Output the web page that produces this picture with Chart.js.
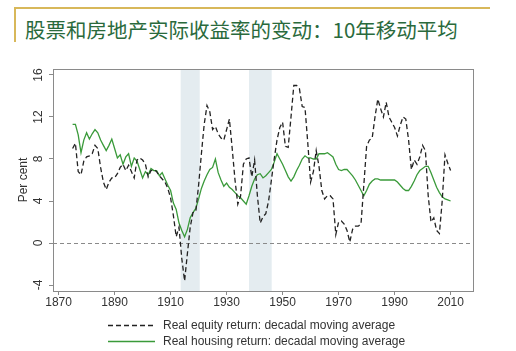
<!DOCTYPE html>
<html>
<head>
<meta charset="utf-8">
<script src="https://cdn.jsdelivr.net/npm/chart.js@4.4.1/dist/chart.umd.min.js"></script>
<style>
    html, body { margin: 0; padding: 0; background: #fff; }
    #wrap { position: relative; width: 516px; height: 351px; overflow: hidden; }
    #title {
        position: absolute; left: 14px; top: 7px; width: 476px; height: 35px;
        border-top: 2px solid #d8b85a; border-left: 2px solid #d8b85a;
        font-family: "Noto Sans CJK SC", sans-serif; font-size: 20.5px;
        color: #2a6a3c; line-height: 40px; padding-left: 9px; box-sizing: border-box;
        white-space: nowrap;
    }
    #chart { position: absolute; left: 0; top: 0; }
</style>
</head>
<body>
<div id="wrap">
    <div id="title">股票和房地产实际收益率的变动：10年移动平均</div>
    <canvas id="chart" width="516" height="351"></canvas>
</div>
<script>
// yearly values, 1875 - 2010
const startYear = 1875;

const equityReturn = [
    9.0, 9.5, 6.8, 6.5, 7.8, 8.2, 8.3, 8.5, 9.3, 9.0,
    7.2, 5.8, 5.1, 5.8, 6.2, 6.2, 6.6, 7.2, 7.5, 6.9,
    7.4, 6.8, 6.2, 7.9, 8.1, 7.9, 7.5, 6.3, 6.9, 7.0,
    6.8, 6.4, 6.1, 5.8, 5.2, 4.3, 2.6, 0.6, 1.5, -1.5,
    -3.6, -1.0, 1.5, 2.9, 3.0, 5.5, 8.5, 11.3, 13.1, 12.5,
    10.8, 11.1, 10.4, 10.0, 9.8, 10.8, 11.8, 9.0, 6.0, 3.7,
    4.5, 7.5, 8.0, 8.1, 6.3, 7.9, 4.5, 1.9, 2.5, 2.8,
    4.0, 6.0, 8.0, 9.8, 11.0, 11.5, 9.2, 9.1, 12.0, 15.0,
    15.0, 14.7, 13.0, 12.9, 9.5, 5.8, 6.8, 8.8, 7.3, 5.0,
    4.2, 4.5, 4.5, 4.2, 0.8, 2.0, 2.1, 1.8, 1.2, 0.1,
    1.3, 1.6, 1.6, 1.8, 5.5, 9.2, 9.8, 10.0, 12.0, 13.7,
    12.8, 12.0, 13.4, 12.0, 11.5, 11.0, 10.2, 11.2, 12.0, 11.8,
    9.8, 7.0, 7.9, 7.5, 8.2, 9.3, 8.8, 4.5, 2.0, 2.4,
    1.2, 0.9, 4.0, 8.4, 7.6, 6.9
];

const housingReturn = [
    11.3, 11.3, 10.3, 8.6, 9.8, 10.5, 9.9, 10.4, 10.8, 10.5,
    9.8, 9.3, 8.8, 9.3, 9.9, 9.0, 8.1, 8.4, 7.5, 8.2,
    8.5, 7.3, 8.1, 7.8, 7.0, 6.2, 6.8, 6.5, 7.1, 6.9,
    6.9, 6.4, 6.7, 6.1, 5.5, 5.0, 3.8, 3.2, 1.9, 1.2,
    0.6, 1.3, 2.4, 2.9, 3.3, 4.2, 5.2, 5.9, 6.5, 7.0,
    7.2, 8.0, 6.7, 6.0, 5.4, 5.7, 5.3, 5.1, 4.8, 4.5,
    4.3, 4.0, 3.7, 4.5, 5.4, 6.1, 6.5, 6.6, 6.2, 6.4,
    6.7, 7.0, 7.7, 8.5, 8.0, 7.5, 6.9, 6.3, 5.9, 6.3,
    6.9, 7.4, 8.0, 8.3, 8.1, 8.1, 8.0, 8.0, 8.5, 8.5,
    8.5, 8.6, 8.4, 8.2, 7.5, 7.0, 6.9, 7.0, 7.0, 6.7,
    6.4, 6.0, 5.5, 5.0, 4.5, 5.0, 5.6, 5.9, 6.1, 6.1,
    6.0, 6.0, 6.0, 6.0, 6.0, 6.0, 5.8, 5.5, 5.2, 5.0,
    5.0, 5.4, 5.9, 6.5, 6.9, 7.1, 7.3, 7.3, 6.7, 6.0,
    5.3, 4.8, 4.4, 4.2, 4.1, 4.0
];

const years = equityReturn.map((_, i) => startYear + i);

const xTicks = [1870, 1890, 1910, 1930, 1950, 1970, 1990, 2010];
const yTicks = [-4, 0, 4, 8, 12, 16];

// shaded war periods
const shadeStart = [1913.6, 1938.0];
const shadeEnd = [1920.4, 1946.1];

const labels = ['Real equity return: decadal moving average', 'Real housing return: decadal moving average'];

const FONT = '"Liberation Sans", Arial, sans-serif';

const extras = {
    id: 'extras',
    beforeDatasetsDraw(chart) {
        const { ctx, chartArea: a, scales: { x, y } } = chart;
        ctx.save();
        ctx.fillStyle = '#e4ecf0';
        shadeStart.forEach((s, i) => {
            const x0 = x.getPixelForValue(s), x1 = x.getPixelForValue(shadeEnd[i]);
            ctx.fillRect(x0, a.top, x1 - x0, a.bottom - a.top);
        });
        // zero line
        const y0 = Math.round(y.getPixelForValue(0)) + 0.5;
        ctx.strokeStyle = '#8a8a8a';
        ctx.lineWidth = 1;
        ctx.setLineDash([4, 3]);
        ctx.beginPath();
        ctx.moveTo(a.left, y0);
        ctx.lineTo(a.right, y0);
        ctx.stroke();
        ctx.restore();
    },
    afterDraw(chart) {
        const { ctx, chartArea: a, scales: { y } } = chart;
        ctx.save();
        ctx.strokeStyle = '#8a8a8a';
        ctx.lineWidth = 1;
        ctx.strokeRect(Math.round(a.left) + 0.5, Math.round(a.top) + 0.5,
            Math.round(a.right - a.left), Math.round(a.bottom - a.top));

        // rotated y tick labels, R style
        ctx.fillStyle = '#333';
        ctx.font = '12px ' + FONT;
        ctx.textAlign = 'center';
        ctx.textBaseline = 'middle';
        yTicks.forEach(v => {
            ctx.save();
            ctx.translate(39, y.getPixelForValue(v));
            ctx.rotate(-Math.PI / 2);
            ctx.fillText(String(v), 0, 0);
            ctx.restore();
        });
        ctx.save();
        ctx.font = '12px ' + FONT;
        ctx.translate(24, 180);
        ctx.rotate(-Math.PI / 2);
        ctx.fillText('Per cent', 0, 0);
        ctx.restore();

        // legend
        ctx.font = '12px ' + FONT;
        ctx.textAlign = 'left';
        chart.data.datasets.forEach((ds, i) => {
            const ly = 325 + i * 16 + 0.5;
            ctx.strokeStyle = ds.borderColor;
            ctx.lineWidth = ds.borderWidth;
            ctx.setLineDash(ds.borderDash || []);
            ctx.beginPath();
            ctx.moveTo(108, ly);
            ctx.lineTo(155, ly);
            ctx.stroke();
            ctx.fillStyle = '#333';
            ctx.fillText(labels[i], 163, ly);
        });
        ctx.restore();
    }
};

new Chart(document.getElementById('chart'), {
    type: 'line',
    data: {
        datasets: [{
            label: labels[0],
            data: years.map((yr, i) => ({ x: yr, y: equityReturn[i] })),
            borderColor: '#222',
            borderWidth: 1.3,
            borderDash: [5, 3],
            pointRadius: 0,
            tension: 0
        }, {
            label: labels[1],
            data: years.map((yr, i) => ({ x: yr, y: housingReturn[i] })),
            borderColor: '#3a9a3a',
            borderWidth: 1.3,
            pointRadius: 0,
            tension: 0
        }]
    },
    options: {
        responsive: false,
        animation: false,
        layout: { padding: { left: 0, top: 69, right: 43, bottom: 0 } },
        plugins: { legend: { display: false }, tooltip: { enabled: false } },
        scales: {
            x: {
                type: 'linear',
                min: 1868,
                max: 2018,
                afterBuildTicks: s => { s.ticks = xTicks.map(v => ({ value: v })); },
                afterFit: s => { s.height = 60; },
                border: { display: false },
                grid: { drawOnChartArea: false, drawTicks: true, tickLength: 4, color: '#8a8a8a' },
                ticks: { color: '#333', font: { family: FONT, size: 12 }, padding: 0, maxRotation: 0, callback: v => String(v) }
            },
            y: {
                min: -4.57,
                max: 16.57,
                afterBuildTicks: s => { s.ticks = yTicks.map(v => ({ value: v })); },
                afterFit: s => { s.width = 53; },
                border: { display: false },
                grid: { drawOnChartArea: false, drawTicks: true, tickLength: 4, color: '#8a8a8a' },
                ticks: { display: false }
            }
        }
    },
    plugins: [extras]
});
</script>
</body>
</html>
